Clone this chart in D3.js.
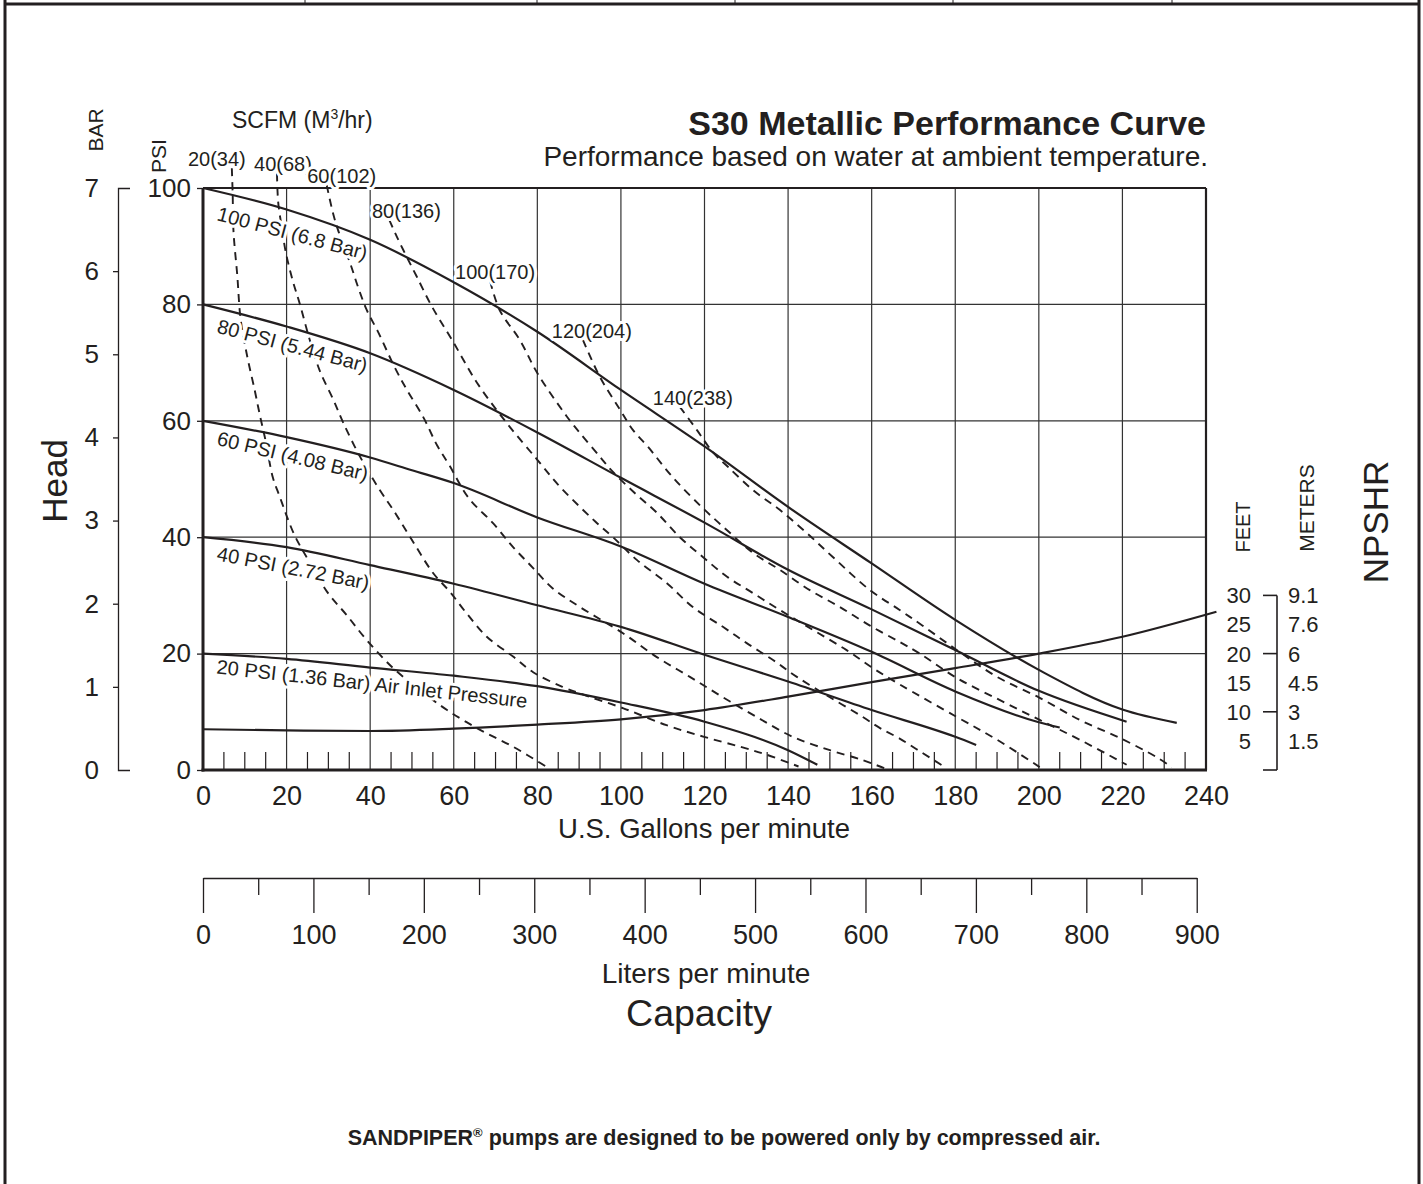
<!DOCTYPE html>
<html>
<head>
<meta charset="utf-8">
<script src="https://cdn.jsdelivr.net/npm/d3@7"></script>
<style>
  body { margin: 0; background: #fff; }
  svg { display: block; font-family: "Liberation Sans", Arial, Helvetica, sans-serif; }
</style>
</head>
<body>
<svg id="chart" width="1423" height="1184"></svg>
<script>
// ---- values ----
const gpmTicks = [0, 20, 40, 60, 80, 100, 120, 140, 160, 180, 200, 220, 240];
const gpmMinor = d3.range(5, 240, 5).filter(v => v % 20 !== 0);
const psiTicks = [0, 20, 40, 60, 80, 100];
const barTicks = [0, 1, 2, 3, 4, 5, 6, 7];
const literTicks = [0, 100, 200, 300, 400, 500, 600, 700, 800, 900];
const literMinor = [50, 150, 250, 350, 450, 550, 650, 750, 850];
const feetTicks = [30, 25, 20, 15, 10, 5];
const meterLabels = ["9.1", "7.6", "6", "4.5", "3", "1.5"];
const bracketTicks = [0, 10, 20, 30];

// head (psi) vs capacity (gpm) at each air inlet pressure
const pressureNames = ["100 PSI (6.8 Bar)", "80 PSI (5.44 Bar)", "60 PSI (4.08 Bar)",
                       "40 PSI (2.72 Bar)", "20 PSI (1.36 Bar) Air Inlet Pressure"];
const psi100 = [[0,100],[20,96.3],[40,91.1],[60,83.8],[80,75.3],[100,65.3],[120,55.6],[140,45.2],
                [160,35.5],[180,25.8],[200,17.2],[220,10.4],[233,8.1]];
const psi80  = [[0,80],[20,76.2],[40,71.6],[60,65.3],[80,58],[100,50.2],[120,42.5],[140,34.4],
                [160,27.6],[180,20.6],[200,13.6],[221,8.3]];
const psi60  = [[0,60],[20,57.2],[40,53.7],[50,51.5],[60,49.3],[80,43.4],[100,38.4],[120,32],
                [140,26.3],[160,20.3],[180,13.5],[200,8.2],[205,7.3]];
const psi40  = [[0,40],[20,38.3],[40,35.2],[60,32],[80,28.3],[100,24.6],[120,19.8],[140,15.2],
                [160,10.3],[180,5.7],[185,4.3]];
const psi20  = [[0,20],[20,19.1],[40,17.6],[60,16.2],[80,14.4],[100,11.6],[120,8.3],[140,3.4],[147,0.9]];

// air consumption lines, SCFM (m3/hr)
const scfmNames = ["20(34)", "40(68)", "60(102)", "80(136)", "100(170)", "120(204)", "140(238)"];
const scfm20  = [[6.9,103.4],[7.1,99],[7.3,92.5],[8.2,85],[9,77.5],[10.6,71],[12.3,65.5],[13.6,61],
                 [15,56.5],[16.7,50.3],[18.4,46.9],[20.1,43.5],[22,40.2],[24.6,36.8],[29.7,30.6],
                 [34.4,26.6],[39.2,22.3],[45.5,17.5],[52,13.7],[58.4,10.3],[66.3,6.9],[74.2,4],[82.3,0.5]];
const scfm40  = [[17.7,102.5],[18,97.5],[18.9,93],[19.8,89],[21.5,84],[23.2,80],[25.5,74],[28,68.5],
                 [31.2,63.6],[33.6,59.6],[37.6,53.8],[42.3,48.1],[45.5,44.7],[49.5,40.1],[55.1,33.8],
                 [59.1,30.6],[63.1,26.9],[67.9,22.9],[74.2,19.5],[79,16.8],[86,14.3],[92,12.7],
                 [100.6,10.6],[110.9,7.7],[119.9,5.7],[128.5,4],[135,2.6],[142.5,0.6]];
const scfm60  = [[29.6,100.5],[31.1,95.7],[32.3,92.8],[35.2,87.1],[37.1,83],[39.2,79],[41.8,75.4],
                 [46,69],[48.8,65.3],[52.8,60.5],[56,55.8],[59,52.3],[63.5,46.8],[69.4,42.4],
                 [74.2,38.3],[79,34.7],[83.7,31.2],[90.2,28],[100.5,23.5],[108.6,19.4],[116.5,16],
                 [124.4,12.5],[132.5,9.1],[141.1,5.7],[150,3.4],[157.9,1.7],[163,0.3]];
const scfm80  = [[44.6,94.5],[46.4,91.6],[48.8,88.1],[51.2,84.7],[54.8,79.6],[59.6,73.9],[65.6,66.5],
                 [72.7,59.6],[80,53.3],[85,49],[90.2,45.2],[94.3,42.4],[98.1,40],[103.8,36.1],
                 [111,32.1],[117.2,28],[124.4,24.6],[130.1,21.8],[136.4,18.9],[142.1,16],[150,12.5],
                 [157.9,9.1],[162,7.2],[166.7,5.4],[172,3],[177.5,0.5]];
const scfm100 = [[68.7,84],[71,79],[75.8,73.9],[80,68.2],[87.1,60.7],[90.2,57.9],[95,53.8],[98.1,51.2],
                 [103.3,47.6],[108.6,44.2],[114.1,40],[119.6,36.6],[125.4,33.2],[131.6,30.4],[138,27.5],
                 [145.9,24.1],[154,20.6],[160.3,17.5],[166.7,14.7],[180.4,9.1],[190,5.2],[200.2,0.5]];
const scfm120 = [[90.9,73.9],[95,67.5],[99.8,61.9],[102.9,58.4],[106.5,55.5],[112.4,50.3],[119.6,45],
                 [125.4,41.2],[131.6,37.3],[138,34.4],[145.2,30.9],[152.4,28],[159.6,24.8],[166.7,22],
                 [171.5,20],[180.4,15.8],[190.7,12],[200.2,8.6],[209.8,5.2],[221,0.9]];
const scfm140 = [[114.1,62.4],[118.2,58.4],[122,54.6],[125.6,52.1],[131.6,48.1],[138,44.7],[144.5,40.7],
                 [150.7,36.6],[159.6,30.9],[166.7,27.5],[172.2,24.8],[181,20.3],[190,16],[200.2,12.4],
                 [209.8,8.6],[219.4,5.5],[228.2,2.2],[231.8,0.5]];

// NPSHR, feet vs gpm
const npshrFeet = [[0,7],[20,6.8],[40,6.7],[60,7.1],[80,7.8],[100,8.7],[120,10.3],[140,12.6],
                   [160,15.1],[180,17.5],[200,20],[220,22.9],[242.5,27.2]];

// ---- label styling (angles / nudges, not data) ----
const labelAngles = [15, 15, 13.5, 11, 6.3];
const labelDy = [32, 28, 24, 23, 20];
const scfmLabelDx = [-15, 6, 15, 17, 5, 9, 13];

const ink = "#231f20";
const svg = d3.select("#chart");

// page frame like the scanned sheet
const page = svg.append("g").attr("stroke", ink).attr("fill", "none");
page.append("line").attr("x1", 5).attr("x2", 1419).attr("y1", 4).attr("y2", 4).attr("stroke-width", 3);
page.append("line").attr("x1", 5).attr("x2", 5).attr("y1", 0).attr("y2", 1184).attr("stroke-width", 3);
page.append("line").attr("x1", 1419).attr("x2", 1419).attr("y1", 0).attr("y2", 1184).attr("stroke-width", 3);
[305, 537, 735, 953, 1172].forEach(px => {
  page.append("line").attr("x1", px).attr("x2", px).attr("y1", 0).attr("y2", 4).attr("stroke-width", 1);
});

// scales
const x = d3.scaleLinear().domain([0, 240]).range([203, 1206]);
const y = d3.scaleLinear().domain([0, 100]).range([770, 188]);
const yBar = d3.scaleLinear().domain([0, 7]).range([770, 188]);
const xLit = d3.scaleLinear().domain([0, 900]).range([x(0), x(900 / 3.785)]);

// grid
const grid = svg.append("g").attr("stroke", "#333").attr("stroke-width", 1.2);
grid.selectAll(".gv").data(gpmTicks.filter(v => v > 0 && v < 240)).join("line")
  .attr("x1", d => x(d)).attr("x2", d => x(d)).attr("y1", y(0)).attr("y2", y(100));
grid.selectAll(".gh").data(psiTicks.filter(v => v > 0 && v < 100)).join("line")
  .attr("x1", x(0)).attr("x2", x(240)).attr("y1", d => y(d)).attr("y2", d => y(d));

// minor ticks inside along bottom
svg.append("g").attr("stroke", ink).attr("stroke-width", 1.2)
  .selectAll("line").data(gpmMinor).join("line")
  .attr("x1", d => x(d)).attr("x2", d => x(d)).attr("y1", y(0)).attr("y2", y(0) - 18);

// frame
const frame = svg.append("g").attr("stroke", ink).attr("fill", "none");
frame.append("line").attr("x1", x(0)).attr("x2", x(240)).attr("y1", y(100)).attr("y2", y(100)).attr("stroke-width", 2);
frame.append("line").attr("x1", x(240)).attr("x2", x(240)).attr("y1", y(100)).attr("y2", y(0)).attr("stroke-width", 2.2);
frame.append("line").attr("x1", x(0)).attr("x2", x(0)).attr("y1", y(100)).attr("y2", y(0) + 1.5).attr("stroke-width", 3);
frame.append("line").attr("x1", x(0) - 1.5).attr("x2", x(240) + 1).attr("y1", y(0)).attr("y2", y(0)).attr("stroke-width", 3);

// x axis (gpm)
const gx = svg.append("g").attr("transform", `translate(0,${y(0)})`)
  .call(d3.axisBottom(x).tickValues(gpmTicks).tickSize(0).tickPadding(16));
gx.select(".domain").remove();
gx.selectAll("text").attr("font-size", 27).attr("fill", ink).attr("font-family", null);

// psi axis
const gy = svg.append("g").attr("transform", `translate(${x(0)},0)`)
  .call(d3.axisLeft(y).tickValues(psiTicks).tickSize(6).tickPadding(6));
gy.select(".domain").remove();
gy.selectAll("line").attr("stroke", ink).attr("stroke-width", 1.3);
gy.selectAll("text").attr("font-size", 26).attr("fill", ink).attr("font-family", null);

// bar axis
const gb = svg.append("g").attr("transform", "translate(118,0)")
  .call(d3.axisLeft(yBar).tickValues(barTicks).tickFormat(d3.format("d"))
    .tickSize(5).tickSizeOuter(-12).tickPadding(14));
gb.select(".domain").attr("stroke", ink).attr("stroke-width", 1.3);
gb.selectAll(".tick line").attr("stroke", ink).attr("stroke-width", 1.3);
gb.selectAll(".tick line").filter(d => d === 0 || d === 7).remove();
gb.selectAll("text").attr("font-size", 26).attr("fill", ink).attr("font-family", null);

// liters axis
const litY = 878;
const gl = svg.append("g").attr("transform", `translate(0,${litY})`)
  .call(d3.axisBottom(xLit).tickValues(literTicks).tickSize(35).tickSizeOuter(0).tickPadding(12));
gl.select(".domain").attr("stroke", ink).attr("stroke-width", 1.3);
gl.selectAll(".tick line").attr("stroke", ink).attr("stroke-width", 1.3);
gl.selectAll("text").attr("font-size", 27).attr("fill", ink).attr("font-family", null);
const glm = svg.append("g").attr("transform", `translate(0,${litY})`)
  .call(d3.axisBottom(xLit).tickValues(literMinor).tickSize(17).tickFormat(""));
glm.select(".domain").remove();
glm.selectAll(".tick line").attr("stroke", ink).attr("stroke-width", 1.3);

// NPSHR bracket (feet share the psi pixel scale)
const bx = 1277;
const br = svg.append("g").attr("stroke", ink).attr("stroke-width", 1.6);
br.append("line").attr("x1", bx).attr("x2", bx).attr("y1", y(30)).attr("y2", y(0));
br.selectAll(".bt").data(bracketTicks).join("line")
  .attr("x1", bx - 14).attr("x2", bx).attr("y1", d => y(d)).attr("y2", d => y(d));
svg.append("g").selectAll("text").data(feetTicks).join("text")
  .attr("x", 1251).attr("y", d => y(d)).attr("dy", "0.36em")
  .attr("text-anchor", "end").attr("font-size", 22).attr("fill", ink).text(d => d);
svg.append("g").selectAll("text").data(meterLabels).join("text")
  .attr("x", 1288).attr("y", (d, i) => y(feetTicks[i])).attr("dy", "0.36em")
  .attr("font-size", 22).attr("fill", ink).text(d => d);

// curves
const line = d3.line().x(d => x(d[0])).y(d => y(d[1]));
const pressureCurves = [psi100, psi80, psi60, psi40, psi20];
const scfmCurves = [scfm20, scfm40, scfm60, scfm80, scfm100, scfm120, scfm140];

svg.append("g").attr("fill", "none").attr("stroke", ink).attr("stroke-width", 1.9)
  .attr("stroke-dasharray", "8,6")
  .selectAll("path").data(scfmCurves).join("path")
  .attr("d", line.curve(d3.curveCatmullRom.alpha(0.5)));

svg.append("g").attr("fill", "none").attr("stroke", ink).attr("stroke-width", 2.2)
  .selectAll("path").data(pressureCurves.concat([npshrFeet])).join("path")
  .attr("d", line.curve(d3.curveMonotoneX));

// labels with white knock-out halo
function halo(sel) {
  sel.attr("stroke", "#fff").attr("stroke-width", 6).attr("stroke-linejoin", "round")
     .attr("paint-order", "stroke").attr("fill", ink);
}
svg.append("g").selectAll("text").data(pressureNames).join("text")
  .attr("transform", (d, i) => `translate(${x(0) + 13},${y(pressureCurves[i][0][1]) + labelDy[i]}) rotate(${labelAngles[i]})`)
  .attr("font-size", 20).text(d => d).call(halo);

svg.append("g").selectAll("text").data(scfmNames).join("text")
  .attr("x", (d, i) => x(scfmCurves[i][0][0]) + scfmLabelDx[i])
  .attr("y", (d, i) => y(scfmCurves[i][0][1]) - 2)
  .attr("text-anchor", "middle").attr("font-size", 20).text(d => d).call(halo);

// titles
svg.append("text").attr("x", x(240)).attr("y", 135).attr("text-anchor", "end")
  .attr("font-size", 34).attr("font-weight", "bold").attr("fill", ink).text("S30 Metallic Performance Curve");
svg.append("text").attr("x", x(240) + 2).attr("y", 166).attr("text-anchor", "end")
  .attr("font-size", 28).attr("fill", ink).text("Performance based on water at ambient temperature.");

const scfmHead = svg.append("text").attr("x", 232).attr("y", 128).attr("font-size", 23).attr("fill", ink);
scfmHead.append("tspan").text("SCFM (M");
scfmHead.append("tspan").attr("font-size", 14).attr("dy", -9).text("3");
scfmHead.append("tspan").attr("dy", 9).text("/hr)");

function vtext(tx, ty, size, str) {
  svg.append("text").attr("transform", `translate(${tx},${ty}) rotate(-90)`)
    .attr("text-anchor", "middle").attr("font-size", size).attr("fill", ink).text(str);
}
vtext(103, 130, 21, "BAR");
vtext(166, 156, 21, "PSI");
vtext(67, 481, 35, "Head");
vtext(1250, 527, 20, "FEET");
vtext(1314, 508, 21, "METERS");
vtext(1388, 522, 35, "NPSHR");

svg.append("text").attr("x", 704).attr("y", 838).attr("text-anchor", "middle")
  .attr("font-size", 27.5).attr("fill", ink).text("U.S. Gallons per minute");
svg.append("text").attr("x", 706).attr("y", 983).attr("text-anchor", "middle")
  .attr("font-size", 28).attr("fill", ink).text("Liters per minute");
svg.append("text").attr("x", 699).attr("y", 1026).attr("text-anchor", "middle")
  .attr("font-size", 37.5).attr("fill", ink).text("Capacity");

const foot = svg.append("text").attr("x", 724).attr("y", 1145).attr("text-anchor", "middle")
  .attr("font-size", 21.5).attr("font-weight", "bold").attr("fill", ink);
foot.append("tspan").text("SANDPIPER");
foot.append("tspan").attr("font-size", 13).attr("dy", -8).text("®");
foot.append("tspan").attr("dy", 8).text(" pumps are designed to be powered only by compressed air.");
</script>
</body>
</html>
